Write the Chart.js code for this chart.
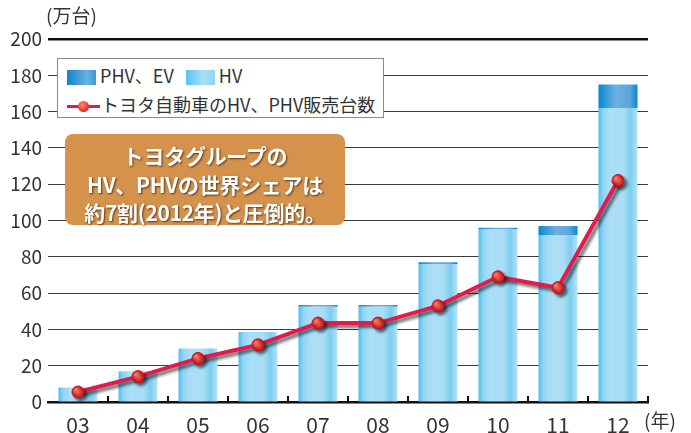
<!DOCTYPE html>
<html>
<head>
<meta charset="utf-8">
<script src="https://cdn.jsdelivr.net/npm/chart.js@4/dist/chart.umd.min.js"></script>
<style>
  body { margin: 0; background: #fff; }
  #wrap { position: relative; width: 691px; height: 433px; font-family: "Noto Sans CJK JP", "Noto Sans", sans-serif; color: #333; }
  canvas { position: absolute; left: 0; top: 0; }
  .unit { position: absolute; font-size: 19px; line-height: 1; }
  #legend { position: absolute; left: 57px; top: 58px; width: 325px; height: 58px; background: #fff; border: 1.5px solid #8a8a8a; }
  #legend .row { position: absolute; left: 9px; font-size: 18px; line-height: 1; white-space: nowrap; }
  .sw { display: inline-block; width: 29px; height: 15px; vertical-align: -2px; margin-right: 4px; }
  .phv { background: linear-gradient(90deg, #0a86cc, #6eb0e0 70%, #3c98d6); }
  .hv { background: linear-gradient(90deg, #5ac4ef, #a9def6 60%, #8fd5f3); margin-left: 12px; }
  .ln { display: inline-block; position: relative; width: 33px; height: 15px; vertical-align: -2px; margin-right: 1px; }
  .ln:before { content: ""; position: absolute; left: 0; right: 0; top: 6px; height: 3px; background: #e5194b; }
  .ln:after { content: ""; position: absolute; left: 11px; top: 2px; width: 11px; height: 11px; border-radius: 50%; background: radial-gradient(circle at 40% 35%, #ff8a6a, #e42a2a 70%); }
  #note { position: absolute; left: 65px; top: 134px; width: 280px; height: 91px; background: #d4924c; border-radius: 8px;
          color: #fff; font-weight: bold; font-size: 21px; line-height: 28.5px; text-align: center; padding-top: 7px; box-sizing: border-box;
          text-shadow: 1px 1px 2px #5a3a1a; letter-spacing: -0.3px; white-space: nowrap; }
</style>
</head>
<body>
<div id="wrap">
  <canvas id="chart" width="691" height="433"></canvas>
  <div class="unit" style="left:46px; top:5px;">(万台)</div>
  <div class="unit" style="left:644px; top:410px;">(年)</div>
  <div id="legend">
    <div class="row" style="top:7px;"><span class="sw phv"></span>PHV、EV<span class="sw hv"></span>HV</div>
    <div class="row" style="top:36px;"><span class="ln"></span>トヨタ自動車のHV、PHV販売台数</div>
  </div>
  <div id="note">トヨタグループの<br>HV、PHVの世界シェアは<br>約7割(2012年)と圧倒的。</div>
</div>
<script>
// Data (万台)
const years = ["03", "04", "05", "06", "07", "08", "09", "10", "11", "12"];
const hvValues = [8, 17, 29.5, 38.5, 52.5, 52.5, 76, 95, 92, 162];
const phvValues = [0, 0, 0, 0, 1, 1, 1, 1, 5, 13];
const toyotaSales = [5.5, 14, 24, 31.5, 43.5, 43.5, 53, 69, 63, 122];
const yTicks = [0, 20, 40, 60, 80, 100, 120, 140, 160, 180, 200];

const BAR_PCT = 0.65;

// horizontal gradient across a bar
function barGradient(context, stops) {
  const chart = context.chart;
  const x = chart.scales.x;
  if (!x || context.type !== "data") return stops[2][1];
  const cx = x.getPixelForValue(context.dataIndex);
  const half = (x.width / years.length) * BAR_PCT / 2;
  if (!isFinite(cx) || !isFinite(half) || half <= 0) return stops[2][1];
  const g = chart.ctx.createLinearGradient(cx - half, 0, cx + half, 0);
  stops.forEach(s => g.addColorStop(s[0], s[1]));
  return g;
}

const hvStops = [[0, "#4fbdeb"], [0.12, "#8fd5f3"], [0.3, "#abdff7"], [0.65, "#a9def6"], [0.82, "#7dcdf0"], [0.92, "#9dd9f4"], [1, "#b6e4f8"]];
const phvStops = [[0, "#0586cc"], [0.15, "#2a96d6"], [0.45, "#6eb0e0"], [0.8, "#5aa6dc"], [1, "#0a88ce"]];

// shadow under the line series
const lineShadow = {
  id: "lineShadow",
  beforeDatasetDraw(chart, args) {
    if (chart.data.datasets[args.index].type !== "line") return;
    const ctx = chart.ctx;
    ctx.save();
    ctx.shadowColor = "rgba(0,0,0,0.55)";
    ctx.shadowOffsetX = 3;
    ctx.shadowOffsetY = 3;
    ctx.shadowBlur = 3;
  },
  afterDatasetDraw(chart, args) {
    if (chart.data.datasets[args.index].type !== "line") return;
    chart.ctx.restore();
  }
};

// small upward tick marks on the x axis between categories
const xTickMarks = {
  id: "xTickMarks",
  afterDraw(chart) {
    const x = chart.scales.x;
    const ctx = chart.ctx;
    const step = x.width / years.length;
    ctx.save();
    ctx.strokeStyle = "#111";
    ctx.lineWidth = 2;
    for (let i = 1; i <= years.length; i++) {
      const px = Math.round(x.left + i * step);
      ctx.beginPath();
      ctx.moveTo(px, x.top - 6);
      ctx.lineTo(px, x.top);
      ctx.stroke();
    }
    ctx.restore();
  }
};

const ctx = document.getElementById("chart").getContext("2d");

new Chart(ctx, {
  data: {
    labels: years,
    datasets: [
      {
        type: "line",
        label: "トヨタ自動車のHV、PHV販売台数",
        data: toyotaSales,
        order: 0,
        stack: "line",
        borderColor: "#e5194b",
        borderWidth: 4,
        pointRadius: 6,
        pointBorderWidth: 1,
        pointBorderColor: "#c8102e",
        pointBackgroundColor: (c) => {
          const el = c.element;
          if (!el || !isFinite(el.x) || !isFinite(el.y)) return "#e8302c";
          const g = c.chart.ctx.createRadialGradient(el.x - 2, el.y - 2, 1, el.x, el.y, 6);
          g.addColorStop(0, "#ff8a6a");
          g.addColorStop(0.7, "#e52a28");
          g.addColorStop(1, "#c81a22");
          return g;
        },
        tension: 0
      },
      {
        type: "bar",
        label: "HV",
        data: hvValues,
        order: 1,
        stack: "bars",
        backgroundColor: (c) => barGradient(c, hvStops),
        barPercentage: BAR_PCT,
        categoryPercentage: 1
      },
      {
        type: "bar",
        label: "PHV、EV",
        data: phvValues,
        order: 1,
        stack: "bars",
        backgroundColor: (c) => barGradient(c, phvStops),
        barPercentage: BAR_PCT,
        categoryPercentage: 1
      }
    ]
  },
  options: {
    responsive: false,
    animation: false,
    layout: { padding: { top: 39, right: 43, left: 0, bottom: 0 } },
    plugins: {
      legend: { display: false },
      tooltip: { enabled: false }
    },
    scales: {
      x: {
        grid: { display: false },
        border: { color: "#111", width: 2.5 },
        ticks: { color: "#333", font: { family: "Noto Sans CJK JP", size: 21 }, padding: 2 },
        afterFit: (s) => { s.height = 31; }
      },
      y: {
        stacked: true,
        min: 0,
        max: 200,
        afterBuildTicks: (s) => { s.ticks = yTicks.map(v => ({ value: v })); },
        grid: {
          drawTicks: false,
          color: (c) => c.tick && c.tick.value === 200 ? "#111" : "#3a3a3a",
          lineWidth: (c) => c.tick && c.tick.value === 200 ? 2.5 : 1
        },
        border: { display: false },
        ticks: { color: "#333", font: { family: "Noto Sans CJK JP", size: 19 }, padding: 6 },
        afterFit: (s) => { s.width = 48; }
      }
    }
  },
  plugins: [lineShadow, xTickMarks]
});
</script>
</body>
</html>
